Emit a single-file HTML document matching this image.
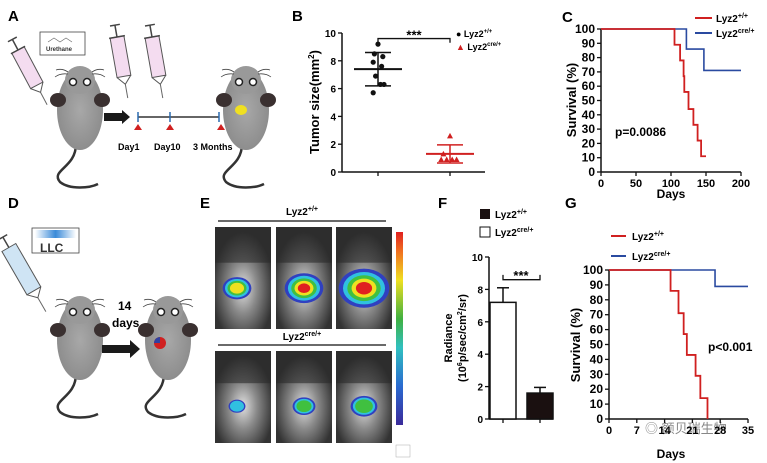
<!DOCTYPE html>
<html><head><meta charset="utf-8"><style>
html,body{margin:0;padding:0;background:#fff;}
svg{display:block;font-family:"Liberation Sans","Noto Sans CJK SC",sans-serif;}
</style></head><body>
<svg id="fig" width="767" height="463" viewBox="0 0 767 463">
<defs>
<radialGradient id="mouseBody" cx="50%" cy="50%" r="60%"><stop offset="0" stop-color="#a8a8a8"/><stop offset="1" stop-color="#888"/></radialGradient>
<radialGradient id="photo" cx="50%" cy="60%" r="55%"><stop offset="0" stop-color="#e0e0e0"/><stop offset="0.45" stop-color="#8a8a8a"/><stop offset="1" stop-color="#333"/></radialGradient>
<linearGradient id="cbar" x1="0" y1="1" x2="0" y2="0"><stop offset="0" stop-color="#3a2a9a"/><stop offset="0.2" stop-color="#2a6ad0"/><stop offset="0.4" stop-color="#30c0c0"/><stop offset="0.55" stop-color="#40b040"/><stop offset="0.75" stop-color="#f0e020"/><stop offset="0.9" stop-color="#f07020"/><stop offset="1" stop-color="#e02020"/></linearGradient>
<linearGradient id="llc" x1="0" x2="1"><stop offset="0" stop-color="#fff"/><stop offset="0.5" stop-color="#3a8ad8"/><stop offset="1" stop-color="#fff"/></linearGradient>
<g id="mouse">
<path d="M-4,34 C-4,58 -30,60 -20,72 C-10,80 10,78 18,74" fill="none" stroke="#333" stroke-width="2.5"/>
<ellipse cx="0" cy="0" rx="23" ry="40" fill="url(#mouseBody)"/>
<ellipse cx="0" cy="-30" rx="15" ry="14" fill="#999"/>
<ellipse cx="-22" cy="-10" rx="8" ry="7" fill="#3a3030"/>
<ellipse cx="22" cy="-10" rx="8" ry="7" fill="#3a3030"/>
<circle cx="-7" cy="-28" r="3.5" fill="#fff" stroke="#222" stroke-width="1.5"/>
<circle cx="7" cy="-28" r="3.5" fill="#fff" stroke="#222" stroke-width="1.5"/>
<path d="M-12,-38 q-6,-4 -12,-2 M-12,-36 q-8,-1 -13,3 M12,-38 q6,-4 12,-2 M12,-36 q8,-1 13,3" stroke="#444" fill="none" stroke-width="0.8"/>
</g>
<g id="syr">
<rect x="-7" y="0" width="14" height="40" fill="#f4dcf0" stroke="#555" stroke-width="1"/>
<line x1="0" y1="-12" x2="0" y2="0" stroke="#444" stroke-width="1.5"/><line x1="-5" y1="-12" x2="5" y2="-12" stroke="#444" stroke-width="1.5"/>
<line x1="-8" y1="0" x2="8" y2="0" stroke="#444" stroke-width="1.5"/>
<path d="M-7,40 L0,48 L7,40" fill="none" stroke="#555"/><line x1="0" y1="48" x2="0" y2="62" stroke="#666"/>
</g>
</defs>

<g>
<text x="8" y="21" font-size="15" font-weight="bold">A</text>
<use href="#mouse" x="80" y="110"/>
<use href="#syr" transform="translate(18,50) rotate(-28)"/>
<rect x="40" y="32" width="45" height="23" fill="#fff" stroke="#444" stroke-width="0.8"/>
<text x="46" y="51" font-size="6" font-weight="bold" fill="#333">Urethane</text>
<path d="M48,42 l6,-4 l6,4 l6,-4 l6,4" stroke="#666" fill="none" stroke-width="0.6"/>
<use href="#syr" transform="translate(117,37) rotate(-10)"/>
<use href="#syr" transform="translate(152,37) rotate(-10)"/>
<polygon points="104,113 122,113 122,110 130,117 122,124 122,121 104,121" fill="#1a1a1a"/>
<line x1="138" y1="117" x2="219" y2="117" stroke="#333" stroke-width="1.5"/>
<line x1="138" y1="112" x2="138" y2="122" stroke="#2a6ab0" stroke-width="1.5"/><line x1="170" y1="112" x2="170" y2="122" stroke="#2a6ab0" stroke-width="1.5"/><line x1="219" y1="112" x2="219" y2="122" stroke="#2a6ab0" stroke-width="1.5"/>
<polygon points="138,124 134,130 142,130" fill="#d02020"/><polygon points="170,124 166,130 174,130" fill="#d02020"/><polygon points="221,124 217,130 225,130" fill="#d02020"/>
<text x="118" y="150" font-size="9" font-weight="bold">Day1</text>
<text x="154" y="150" font-size="9" font-weight="bold">Day10</text>
<text x="193" y="150" font-size="9" font-weight="bold">3 Months</text>
<use href="#mouse" x="246" y="110"/>
<ellipse cx="241" cy="110" rx="6" ry="5" fill="#f0e020"/>
</g>

<g>
<text x="8" y="208" font-size="15" font-weight="bold">D</text>
<rect x="32" y="228" width="47" height="25" fill="#fff" stroke="#444" stroke-width="0.8"/>
<rect x="35" y="230" width="41" height="8" fill="url(#llc)"/>
<text x="40" y="252" font-size="12" font-weight="bold" fill="#333">LLC</text>
<g transform="translate(8,248) rotate(-30)">
<rect x="-7" y="0" width="16" height="50" fill="#cfe4f4" stroke="#555"/><line x1="1" y1="-12" x2="1" y2="0" stroke="#444" stroke-width="1.5"/><line x1="-4" y1="-12" x2="6" y2="-12" stroke="#444" stroke-width="1.5"/><path d="M-7,50 L1,58 L9,50" fill="none" stroke="#555"/><line x1="1" y1="58" x2="1" y2="74" stroke="#666"/>
</g>
<use href="#mouse" x="80" y="340"/>
<text x="118" y="310" font-size="12" font-weight="bold">14</text>
<text x="112" y="327" font-size="12" font-weight="bold">days</text>
<polygon points="102,345 130,345 130,340 140,349 130,358 130,353 102,353" fill="#1a1a1a"/>
<use href="#mouse" x="168" y="340"/>
<circle cx="160" cy="343" r="6" fill="#d02020"/><path d="M154,343 a6,6 0 0,1 6,-6 v6z" fill="#3040a0"/>
</g>

<g>
<text x="200" y="208" font-size="15" font-weight="bold">E</text>
<line x1="218" y1="221" x2="386" y2="221" stroke="#111" stroke-width="1.2"/>
<text x="302" y="215" font-size="10" font-weight="bold" text-anchor="middle">Lyz2<tspan font-size="7" dy="-4">+/+</tspan></text>
<line x1="218" y1="345" x2="386" y2="345" stroke="#111" stroke-width="1.2"/>
<text x="302" y="340" font-size="10" font-weight="bold" text-anchor="middle">Lyz2<tspan font-size="7" dy="-4">cre/+</tspan></text>
<g id="photos"></g>
<rect x="396" y="232" width="7" height="193" fill="url(#cbar)"/>
<rect x="396" y="445" width="14" height="12" fill="#fff" stroke="#aaa" stroke-width="0.5"/>
</g>

<g id="panelB">
<text x="292" y="21" font-size="15" font-weight="bold">B</text>
<text transform="translate(319,102) rotate(-90)" font-size="13" font-weight="bold" text-anchor="middle">Tumor size(mm<tspan font-size="8" dy="-5">2</tspan><tspan dy="5">)</tspan></text>
<text x="456" y="37" font-size="9" font-weight="bold">● Lyz2<tspan font-size="6" dy="-4">+/+</tspan></text>
<text x="456" y="50" font-size="9" font-weight="bold"><tspan fill="#d02020">▲</tspan> Lyz2<tspan font-size="6" dy="-4">cre/+</tspan></text>
</g>

<g id="panelC">
<text x="562" y="22" font-size="15" font-weight="bold">C</text>
<text transform="translate(576,100) rotate(-90)" font-size="13" font-weight="bold" text-anchor="middle">Survival (%)</text>
<text x="671" y="198" font-size="12" font-weight="bold" text-anchor="middle">Days</text>
<text x="615" y="136" font-size="12" font-weight="bold">p=0.0086</text>
<line x1="695" y1="18" x2="712" y2="18" stroke="#d02020" stroke-width="2"/><text x="716" y="22" font-size="10" font-weight="bold">Lyz2<tspan font-size="7" dy="-4">+/+</tspan></text>
<line x1="695" y1="33" x2="712" y2="33" stroke="#2a4aa0" stroke-width="2"/><text x="716" y="37" font-size="10" font-weight="bold">Lyz2<tspan font-size="7" dy="-4">cre/+</tspan></text>
</g>

<g id="panelF">
<text x="438" y="208" font-size="15" font-weight="bold">F</text>
<rect x="480" y="209" width="10" height="10" fill="#1a1010"/><text x="495" y="218" font-size="10" font-weight="bold">Lyz2<tspan font-size="7" dy="-4">+/+</tspan></text>
<rect x="480" y="227" width="10" height="10" fill="#fff" stroke="#111"/><text x="495" y="236" font-size="10" font-weight="bold">Lyz2<tspan font-size="7" dy="-4">cre/+</tspan></text>
<text transform="translate(452,338) rotate(-90)" font-size="11" font-weight="bold" text-anchor="middle">Radiance</text>
<text transform="translate(466,338) rotate(-90)" font-size="11" font-weight="bold" text-anchor="middle">(10<tspan font-size="7" dy="-4">6</tspan><tspan dy="4">p/sec/cm</tspan><tspan font-size="7" dy="-4">2</tspan><tspan dy="4">/sr)</tspan></text>
</g>

<g id="panelG">
<text x="565" y="208" font-size="15" font-weight="bold">G</text>
<line x1="611" y1="236" x2="626" y2="236" stroke="#d02020" stroke-width="2"/><text x="632" y="240" font-size="10" font-weight="bold">Lyz2<tspan font-size="7" dy="-4">+/+</tspan></text>
<line x1="611" y1="256" x2="626" y2="256" stroke="#2a4aa0" stroke-width="2"/><text x="632" y="260" font-size="10" font-weight="bold">Lyz2<tspan font-size="7" dy="-4">cre/+</tspan></text>
<text transform="translate(580,345) rotate(-90)" font-size="13" font-weight="bold" text-anchor="middle">Survival (%)</text>
<text x="671" y="458" font-size="12" font-weight="bold" text-anchor="middle">Days</text>
<text x="708" y="351" font-size="12" font-weight="bold">p&lt;0.001</text>
<text x="645" y="433" font-size="13" fill="#555" opacity="0.7">◎ 额贝瑞生物</text>
</g>
</svg>
<script>
const NS='http://www.w3.org/2000/svg';
function mk(parent,tag,attrs){const e=document.createElementNS(NS,tag);for(const k in attrs)e.setAttribute(k,attrs[k]);parent.appendChild(e);return e;}

// Panel B data
const bCategories=['Lyz2+/+','Lyz2cre/+'];
const bWtPoints=[9.2,8.5,8.3,7.9,7.6,6.9,6.3,6.3,5.7];
const bCrePoints=[2.6,1.3,0.9,0.9,0.9,0.9];
const bMeans=[7.4,1.3];
const bSd=[1.2,0.65];
const bTicks=[0,2,4,6,8,10];
// Panel C data
const cTicksX=[0,50,100,150,200];
const cTicksY=[0,10,20,30,40,50,60,70,80,90,100];
const cWtDays=[0,105,113,118,119,125,132,138,143,150];
const cWtSurv=[100,89,78,67,56,44,33,22,11,11];
const cCreDays=[0,122,147,200];
const cCreSurv=[100,86,71,71];
// Panel F data
const fValues=[7.2,1.6];
const fErr=[0.9,0.35];
const fTicks=[0,2,4,6,8,10];
// Panel G data
const gTicksX=[0,7,14,21,28,35];
const gTicksY=[0,10,20,30,40,50,60,70,80,90,100];
const gWtDays=[0,15.5,17.5,18.8,19.6,21.8,23.0,24.8];
const gWtSurv=[100,86,71,57,43,29,14,0];
const gCreDays=[0,26.7,35];
const gCreSurv=[100,89,89];
// Panel E blobs (radiance intensity)
const eIntensity=[[0.45,0.7,1.0],[0.15,0.3,0.4]];

function axisY(g,x,y0,y1,ticks,max,fs){
  mk(g,'line',{x1:x,y1:y0,x2:x,y2:y1,stroke:'#111','stroke-width':1.5});
  ticks.forEach(t=>{const y=y0-(y0-y1)*t/max;
    mk(g,'line',{x1:x-4,y1:y,x2:x,y2:y,stroke:'#111','stroke-width':1.3});
    const tx=mk(g,'text',{x:x-6,y:y+4,'font-size':fs,'font-weight':'bold','text-anchor':'end'});tx.textContent=t;});
}
function axisX(g,y,x0,x1,ticks,max,fs){
  mk(g,'line',{x1:x0,y1:y,x2:x1,y2:y,stroke:'#111','stroke-width':1.5});
  ticks.forEach(t=>{const x=x0+(x1-x0)*t/max;
    mk(g,'line',{x1:x,y1:y,x2:x,y2:y+4,stroke:'#111','stroke-width':1.3});
    const tx=mk(g,'text',{x:x,y:y+15,'font-size':fs,'font-weight':'bold','text-anchor':'middle'});tx.textContent=t;});
}
function step(days,surv,sx,sy){let d='M'+sx(days[0])+','+sy(surv[0]);
  for(let i=1;i<days.length;i++){d+=' H'+sx(days[i])+' V'+sy(surv[i]);}return d;}

(function(){const g=document.getElementById('panelB');
const X0=342,X1=485,Y0=172,Y1=33;const sy=v=>Y0-(Y0-Y1)*v/10;const cx=[378,450];
axisY(g,X0,Y0,Y1,bTicks,10,10);
mk(g,'line',{x1:X0,y1:Y0,x2:X1,y2:Y0,stroke:'#111','stroke-width':1.5});
cx.forEach(x=>mk(g,'line',{x1:x,y1:Y0,x2:x,y2:Y0+4,stroke:'#111','stroke-width':1.3}));
const off=[0,-3,4,-4,3,-2,2,5,-4];
bWtPoints.forEach((v,i)=>{const c=mk(g,'circle',{cx:cx[0]+off[i]*1.2,cy:sy(v),r:2.6,fill:'#111'});
});
const off2=[0,-6,-3,2,6,-8];
bCrePoints.forEach((v,i)=>{const x=cx[1]+off2[i]*1.1,y=sy(v);const p=mk(g,'polygon',{points:`${x},${y-3} ${x-3},${y+2.5} ${x+3},${y+2.5}`,fill:'#d02020'});
});
bMeans.forEach((m,i)=>{const col=i?'#d02020':'#111';
mk(g,'line',{x1:cx[i]-24,y1:sy(m),x2:cx[i]+24,y2:sy(m),stroke:col,'stroke-width':2});
mk(g,'line',{x1:cx[i],y1:sy(m-bSd[i]),x2:cx[i],y2:sy(m+bSd[i]),stroke:col,'stroke-width':1.5});
[m-bSd[i],m+bSd[i]].forEach(v=>mk(g,'line',{x1:cx[i]-13,y1:sy(v),x2:cx[i]+13,y2:sy(v),stroke:col,'stroke-width':1.5}));});
mk(g,'path',{d:`M${cx[0]},${sy(9.3)} V${sy(9.6)} H${cx[1]} V${sy(9.3)}`,fill:'none',stroke:'#111','stroke-width':1.3});
const s=mk(g,'text',{x:(cx[0]+cx[1])/2,y:sy(9.75)+3,'font-size':13,'font-weight':'bold','text-anchor':'middle'});s.textContent='***';
})();

(function(){const g=document.getElementById('panelC');
const X0=601,X1=741,Y0=172,Y1=29;const sx=d=>X0+(X1-X0)*d/200,sy=v=>Y0-(Y0-Y1)*v/100;
axisY(g,X0,Y0,Y1,cTicksY,100,12);axisX(g,Y0,X0,X1,cTicksX,200,11);
const p1=mk(g,'path',{d:step(cCreDays,cCreSurv,sx,sy),fill:'none',stroke:'#2a4aa0','stroke-width':1.6});

const p2=mk(g,'path',{d:step(cWtDays,cWtSurv,sx,sy),fill:'none',stroke:'#d02020','stroke-width':1.8});

})();

(function(){const g=document.getElementById('panelF');
const X0=489,X1=553,Y0=419,Y1=257;const sy=v=>Y0-(Y0-Y1)*v/10;
axisY(g,X0,Y0,Y1,fTicks,10,10);
mk(g,'line',{x1:X0,y1:Y0,x2:X1,y2:Y0,stroke:'#111','stroke-width':1.5});
const bx=[490,527],fills=['#fff','#1a1010'];
fValues.forEach((v,i)=>{
mk(g,'line',{x1:bx[i]+13,y1:sy(v),x2:bx[i]+13,y2:sy(v+fErr[i]),stroke:'#111','stroke-width':1.5});
mk(g,'line',{x1:bx[i]+7,y1:sy(v+fErr[i]),x2:bx[i]+19,y2:sy(v+fErr[i]),stroke:'#111','stroke-width':1.5});
const r=mk(g,'rect',{x:bx[i],y:sy(v),width:26,height:Y0-sy(v),fill:fills[i],stroke:'#111','stroke-width':1.5});

mk(g,'line',{x1:bx[i]+13,y1:Y0,x2:bx[i]+13,y2:Y0+4,stroke:'#111','stroke-width':1.3});});
mk(g,'path',{d:`M503,${sy(8.9)} V${sy(8.6)} H540 V${sy(8.9)}`,fill:'none',stroke:'#111','stroke-width':1.3});
const s=mk(g,'text',{x:521,y:sy(8.7)+2,'font-size':13,'font-weight':'bold','text-anchor':'middle'});s.textContent='***';
})();

(function(){const g=document.getElementById('panelG');
const X0=609,X1=748,Y0=419,Y1=270;const sx=d=>X0+(X1-X0)*d/35,sy=v=>Y0-(Y0-Y1)*v/100;
axisY(g,X0,Y0,Y1,gTicksY,100,12);axisX(g,Y0,X0,X1,gTicksX,35,11);
const p1=mk(g,'path',{d:step(gCreDays,gCreSurv,sx,sy),fill:'none',stroke:'#2a4aa0','stroke-width':1.6});

const p2=mk(g,'path',{d:step(gWtDays,gWtSurv,sx,sy),fill:'none',stroke:'#d02020','stroke-width':1.8});

})();

(function(){const g=document.getElementById('photos');
const cols=[215,276,336],rows=[[227,102],[351,92]];
rows.forEach((r,ri)=>cols.forEach((x,ci)=>{
const ph=mk(g,'rect',{x:x,y:r[0],width:56,height:r[1],fill:'url(#photo)'});

mk(g,'rect',{x:x,y:r[0],width:56,height:r[1]*0.35,fill:'#2a2a2a',opacity:0.6});
const k=eIntensity[ri][ci],cx=x+28+(ci===0?-6:0),cy=r[0]+r[1]*0.6;const R=5+k*18;
['#3040c0','#30c0e0','#40c040','#f0e020','#e02020'].forEach((c,j)=>{
const rr=R*(1-j*0.17);if(j/4<=k*1.3+0.2)mk(g,'ellipse',{cx:cx,cy:cy,rx:rr*1.1,ry:rr*0.85,fill:c});});
}));
})();
</script>
</body></html>
